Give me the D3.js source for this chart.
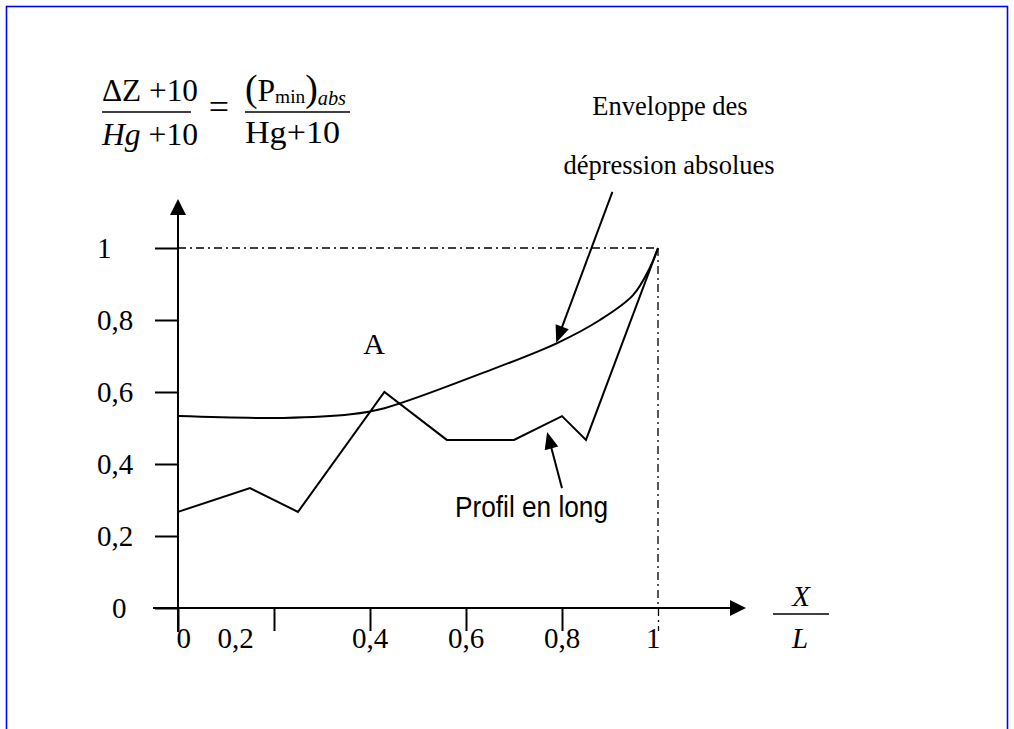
<!DOCTYPE html>
<html>
<head>
<meta charset="utf-8">
<script src="https://cdn.jsdelivr.net/npm/d3@7"></script>
<style>
  html, body { margin: 0; padding: 0; background: #fff; }
  svg { display: block; }
  text { font-family: "Liberation Serif", "Times New Roman", serif; fill: #000; }
</style>
</head>
<body>
<div id="chart"></div>
<script>
// ticks and their labels (the "0,2" label sits left of its tick in the source figure)
var xTicks = [0, 0.2, 0.4, 0.6, 0.8, 1];
var xTickLabels = ["0", "0,2", "0,4", "0,6", "0,8", "1"];
var xLabelAt = [0.012, 0.12, 0.4, 0.6, 0.8, 0.99];
var yTicks = [0, 0.2, 0.4, 0.6, 0.8, 1];
var yTickLabels = ["0", "0,2", "0,4", "0,6", "0,8", "1"];

// envelope of the absolute depressions (smooth curve)
var envX = [0, 0.22, 0.36, 0.43, 0.635, 0.79, 0.879, 0.948, 0.983, 1];
var envY = [0.533, 0.528, 0.538, 0.555, 0.653, 0.736, 0.8, 0.869, 0.945, 1];

// longitudinal profile (broken line)
var profX = [0, 0.15, 0.25, 0.43, 0.56, 0.70, 0.80, 0.85, 1];
var profY = [0.267, 0.333, 0.267, 0.6, 0.467, 0.467, 0.533, 0.467, 1];

// annotation arrows: [tailX, tailY, tipX, tipY] in chart units
var envArrow = [0.905, 1.156, 0.788, 0.737];
var profArrow = [0.8, 0.333, 0.769, 0.489];

var width = 1014, height = 729;

var svg = d3.select("#chart").append("svg")
	.attr("width", width)
	.attr("height", height);

// blue page frame
svg.append("rect")
	.attr("x", 6.5).attr("y", 6.5)
	.attr("width", 1001).attr("height", 800)
	.attr("fill", "none")
	.attr("stroke", "#0000ff")
	.attr("stroke-width", 1.6);

var x = d3.scaleLinear().domain([0, 1]).range([178, 658]);
var y = d3.scaleLinear().domain([0, 1]).range([608, 248]);

function arrowHead(tipX, tipY, fromX, fromY, len, half) {
	var a = Math.atan2(tipY - fromY, tipX - fromX);
	var bx = tipX - len * Math.cos(a), by = tipY - len * Math.sin(a);
	var px = -Math.sin(a) * half, py = Math.cos(a) * half;
	return "M" + tipX + "," + tipY + "L" + (bx + px) + "," + (by + py) + "L" + (bx - px) + "," + (by - py) + "Z";
}

// dash-dot guides at y = 1 and x = 1
var guide = svg.append("g")
	.attr("stroke", "#000")
	.attr("stroke-width", 1.3)
	.attr("stroke-dasharray", "8,4,2,4")
	.attr("fill", "none");
guide.append("line")
	.attr("x1", x(0)).attr("x2", x(1))
	.attr("y1", y(1)).attr("y2", y(1));
guide.append("line")
	.attr("x1", x(1)).attr("x2", x(1))
	.attr("y1", y(1)).attr("y2", y(0));

// axes ticks via d3 axis generators
var xAxis = svg.append("g")
	.attr("transform", "translate(0," + y(0) + ")")
	.call(d3.axisBottom(x).tickValues(xTicks).tickSize(23).tickFormat(""));
var yAxis = svg.append("g")
	.attr("transform", "translate(" + x(0) + ",0)")
	.call(d3.axisLeft(y).tickValues(yTicks).tickSize(23).tickFormat(""));
[xAxis, yAxis].forEach(function (g) {
	g.select(".domain").remove();
	g.selectAll(".tick line").attr("stroke", "#000").attr("stroke-width", 2);
});
// the x = 1 tick continues the dash-dot guide
xAxis.selectAll(".tick line").filter(function (d) { return d === 1; })
	.attr("stroke-dasharray", "8,4,2,4").attr("stroke-width", 1.3);

// axis lines with arrows
svg.append("line")
	.attr("x1", 153).attr("x2", 732)
	.attr("y1", y(0)).attr("y2", y(0))
	.attr("stroke", "#000").attr("stroke-width", 2);
svg.append("path")
	.attr("d", arrowHead(746, y(0), 700, y(0), 16, 8))
	.attr("fill", "#000");
svg.append("line")
	.attr("x1", x(0)).attr("x2", x(0))
	.attr("y1", 632).attr("y2", 214)
	.attr("stroke", "#000").attr("stroke-width", 2);
svg.append("path")
	.attr("d", arrowHead(x(0), 199, x(0), 260, 16, 8))
	.attr("fill", "#000");

// tick labels
svg.append("g").selectAll("text")
	.data(xTickLabels)
	.join("text")
	.attr("x", function (d, i) { return x(xLabelAt[i]); })
	.attr("y", 648)
	.attr("text-anchor", "middle")
	.attr("font-size", 29)
	.text(function (d) { return d; });
// y labels start at a common left edge, except the "0" which sits further right
svg.append("g").selectAll("text")
	.data(yTickLabels)
	.join("text")
	.attr("x", function (d) { return d === "0" ? 112 : 97; })
	.attr("y", function (d, i) { return y(yTicks[i]) + 10; })
	.attr("font-size", 29)
	.text(function (d) { return d; });

// X / L axis title
svg.append("text").attr("x", 801).attr("y", 606).attr("text-anchor", "middle")
	.attr("font-size", 29).attr("font-style", "italic").text("X");
svg.append("line").attr("x1", 773).attr("x2", 829).attr("y1", 614).attr("y2", 614)
	.attr("stroke", "#000").attr("stroke-width", 1.3);
svg.append("text").attr("x", 800).attr("y", 648).attr("text-anchor", "middle")
	.attr("font-size", 29).attr("font-style", "italic").text("L");

// the two series
var envLine = d3.line()
	.x(function (d) { return x(d[0]); })
	.y(function (d) { return y(d[1]); })
	.curve(d3.curveCatmullRom.alpha(0.5));
svg.append("path")
	.attr("d", envLine(d3.zip(envX, envY)))
	.attr("fill", "none").attr("stroke", "#000").attr("stroke-width", 2);

var profLine = d3.line()
	.x(function (d) { return x(d[0]); })
	.y(function (d) { return y(d[1]); });
svg.append("path")
	.attr("d", profLine(d3.zip(profX, profY)))
	.attr("fill", "none").attr("stroke", "#000").attr("stroke-width", 2)
	.attr("stroke-linejoin", "miter");

// annotation arrows
[envArrow, profArrow].forEach(function (a) {
	var x1 = x(a[0]), y1 = y(a[1]), x2 = x(a[2]), y2 = y(a[3]);
	var ang = Math.atan2(y2 - y1, x2 - x1);
	svg.append("line")
		.attr("x1", x1).attr("y1", y1)
		.attr("x2", x2 - 12 * Math.cos(ang)).attr("y2", y2 - 12 * Math.sin(ang))
		.attr("stroke", "#000").attr("stroke-width", 2);
	svg.append("path")
		.attr("d", arrowHead(x2, y2, x1, y1, 17, 7))
		.attr("fill", "#000");
});

// annotation texts
svg.append("text").attr("x", 374).attr("y", 354).attr("text-anchor", "middle")
	.attr("font-size", 30).text("A");
svg.append("text").attr("x", 670).attr("y", 115).attr("text-anchor", "middle")
	.attr("font-size", 26.5).text("Enveloppe des");
svg.append("text").attr("x", 669).attr("y", 174).attr("text-anchor", "middle")
	.attr("font-size", 26.5).text("dépression absolues");
svg.append("text").attr("x", 455).attr("y", 517)
	.style("font-family", "'Liberation Sans Narrow', 'Liberation Sans', Arial, sans-serif")
	.attr("font-size", 30)
	.attr("textLength", 153).attr("lengthAdjust", "spacingAndGlyphs")
	.text("Profil en long");

// formula (ΔZ+10)/(Hg+10) = (Pmin)abs/(Hg+10)
var f = svg.append("g").attr("font-size", 31);
var n1 = f.append("text").attr("x", 102).attr("y", 101)
	.attr("textLength", 96).attr("lengthAdjust", "spacingAndGlyphs");
n1.append("tspan").text("ΔZ");
n1.append("tspan").text(" +10");
f.append("line").attr("x1", 102).attr("x2", 191).attr("y1", 112).attr("y2", 112)
	.attr("stroke", "#000").attr("stroke-width", 1.4);
var d1 = f.append("text").attr("x", 102).attr("y", 145)
	.attr("textLength", 96).attr("lengthAdjust", "spacingAndGlyphs");
d1.append("tspan").attr("font-style", "italic").text("Hg");
d1.append("tspan").text(" +10");

f.append("text").attr("x", 219).attr("y", 119).attr("text-anchor", "middle")
	.attr("font-size", 36).text("=");

var n2 = f.append("text").attr("x", 245).attr("y", 101)
	.attr("textLength", 101).attr("lengthAdjust", "spacingAndGlyphs");
n2.append("tspan").attr("font-size", 37).text("(");
n2.append("tspan").text("P");
n2.append("tspan").attr("font-size", 19).attr("dy", 2).text("min");
n2.append("tspan").attr("font-size", 37).attr("dy", -2).text(")");
n2.append("tspan").attr("font-size", 20).attr("font-style", "italic").attr("dy", 4).text("abs");
f.append("line").attr("x1", 245).attr("x2", 350).attr("y1", 112).attr("y2", 112)
	.attr("stroke", "#000").attr("stroke-width", 1.4);
f.append("text").attr("x", 245).attr("y", 143)
	.attr("textLength", 95).attr("lengthAdjust", "spacingAndGlyphs").text("Hg+10");
</script>
</body>
</html>
